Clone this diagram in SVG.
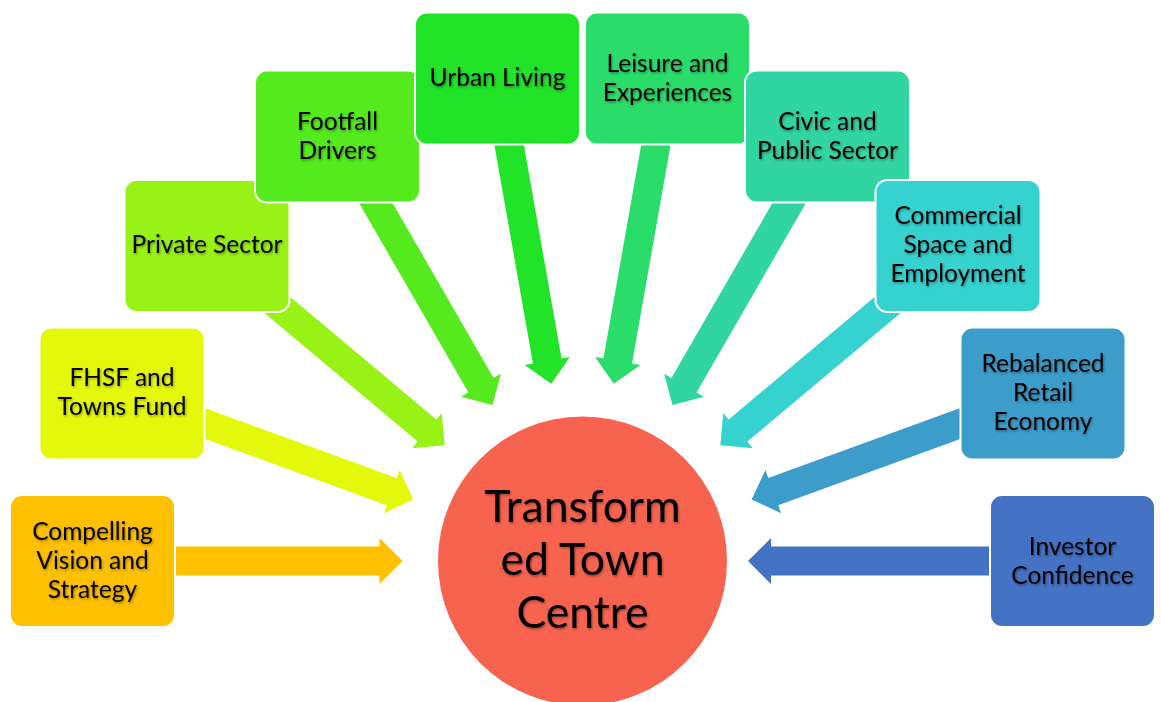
<svg xmlns="http://www.w3.org/2000/svg" xmlns:xlink="http://www.w3.org/1999/xlink" width="1161" height="702" viewBox="0 0 1161 702">
<defs>
<filter id="ts" x="-10%" y="-30%" width="120%" height="160%">
<feDropShadow dx="1" dy="1.5" stdDeviation="1.3" flood-color="#000" flood-opacity="0.35"/>
</filter>
<path id="arr" d="M-490,-14.5 L-203,-14.5 L-203,-23 L-180,0 L-203,23 L-203,14.5 L-490,14.5 Z"/>
</defs>
<style>
.box{stroke:#fff;stroke-width:2}
.t{font-family:Lato,"Liberation Sans",sans-serif;font-size:24.5px;fill:#000;text-anchor:middle;filter:url(#ts)}
.ct{font-family:Lato,"Liberation Sans",sans-serif;font-size:44.5px;fill:#000;text-anchor:middle;filter:url(#ts)}
</style>
<rect width="1161" height="702" fill="#fff"/>
<g id="connectors">
<use xlink:href="#arr" href="#arr" fill="#FFC000" transform="translate(582.5 561) rotate(0)"/>
<use xlink:href="#arr" href="#arr" fill="#E4F80C" transform="translate(582.5 561) rotate(20)"/>
<use xlink:href="#arr" href="#arr" fill="#99F216" transform="translate(582.5 561) rotate(40)"/>
<use xlink:href="#arr" href="#arr" fill="#55EA1E" transform="translate(582.5 561) rotate(60)"/>
<use xlink:href="#arr" href="#arr" fill="#21E328" transform="translate(582.5 561) rotate(80)"/>
<use xlink:href="#arr" href="#arr" fill="#2ADD6B" transform="translate(582.5 561) rotate(100)"/>
<use xlink:href="#arr" href="#arr" fill="#31D5A2" transform="translate(582.5 561) rotate(120)"/>
<use xlink:href="#arr" href="#arr" fill="#36D2D0" transform="translate(582.5 561) rotate(140)"/>
<use xlink:href="#arr" href="#arr" fill="#3C9DCB" transform="translate(582.5 561) rotate(160)"/>
<use xlink:href="#arr" href="#arr" fill="#4472C4" transform="translate(582.5 561) rotate(180) translate(14.5 0)"/>
</g>
<g id="n1">
<rect class="box" x="10" y="495" width="165" height="132" rx="12" fill="#FFC000"/>
<text class="t"><tspan x="92.5" y="540">Compelling</tspan><tspan x="92.5" y="569">Vision and</tspan><tspan x="92.5" y="598">Strategy</tspan></text>
</g>
<g id="n2">
<rect class="box" x="39.5" y="327.5" width="165" height="132" rx="12" fill="#E4F80C"/>
<text class="t"><tspan x="122" y="386">FHSF and</tspan><tspan x="122" y="415">Towns Fund</tspan></text>
</g>
<g id="n3">
<rect class="box" x="124.5" y="180" width="165" height="132" rx="12" fill="#99F216"/>
<text class="t" x="207" y="253">Private Sector</text>
</g>
<g id="n4">
<rect class="box" x="255" y="70.5" width="165" height="132" rx="12" fill="#55EA1E"/>
<text class="t"><tspan x="337.5" y="130">Footfall</tspan><tspan x="337.5" y="159">Drivers</tspan></text>
</g>
<g id="n5">
<rect class="box" x="415" y="12.5" width="165" height="132" rx="12" fill="#21E328"/>
<text class="t" x="497.5" y="86">Urban Living</text>
</g>
<g id="n6">
<rect class="box" x="585" y="12.5" width="165" height="132" rx="12" fill="#2ADD6B"/>
<text class="t"><tspan x="667.5" y="72">Leisure and</tspan><tspan x="667.5" y="101">Experiences</tspan></text>
</g>
<g id="n7">
<rect class="box" x="745" y="70.5" width="165" height="132" rx="12" fill="#31D5A2"/>
<text class="t"><tspan x="827.5" y="130">Civic and</tspan><tspan x="827.5" y="159">Public Sector</tspan></text>
</g>
<g id="n8">
<rect class="box" x="875.5" y="180" width="165" height="132" rx="12" fill="#36D2D0"/>
<text class="t"><tspan x="958" y="224">Commercial</tspan><tspan x="958" y="253">Space and</tspan><tspan x="958" y="282">Employment</tspan></text>
</g>
<g id="n9">
<rect class="box" x="960.5" y="327.5" width="165" height="132" rx="12" fill="#3C9DCB"/>
<text class="t"><tspan x="1043" y="372">Rebalanced</tspan><tspan x="1043" y="401">Retail</tspan><tspan x="1043" y="430">Economy</tspan></text>
</g>
<g id="n10">
<rect class="box" x="990" y="495" width="165" height="132" rx="12" fill="#4472C4"/>
<text class="t"><tspan x="1072.5" y="555">Investor</tspan><tspan x="1072.5" y="584">Confidence</tspan></text>
</g>
<g id="center">
<circle cx="582.5" cy="561" r="144.5" fill="#F8634F"/>
<text class="ct"><tspan x="582.5" y="522">Transform</tspan><tspan x="582.5" y="575">ed Town</tspan><tspan x="582.5" y="628">Centre</tspan></text>
</g>
</svg>
